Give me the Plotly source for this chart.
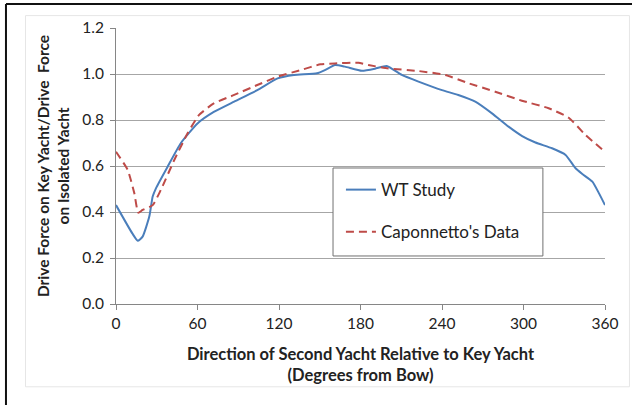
import plotly.graph_objects as go

wt_deg = [0, 12, 16, 19.6, 24.5, 27, 29.4, 38, 47.8, 60, 72, 87, 104, 119, 131, 148, 153.8, 161.2, 168.6, 181,
          190.7, 199.3, 210.4, 222.7, 240, 252, 264.5, 276.8, 289, 299, 308.8, 321, 331, 338.3, 343.3, 350.7, 355.6, 360]
wt_val = [0.430, 0.307, 0.275, 0.293, 0.38, 0.467, 0.503, 0.597, 0.70, 0.785, 0.835, 0.88, 0.93, 0.981, 0.996, 1.003,
          1.017, 1.039, 1.032, 1.014, 1.023, 1.035, 0.996, 0.967, 0.93, 0.909, 0.880, 0.829, 0.771, 0.730, 0.702,
          0.677, 0.648, 0.590, 0.565, 0.532, 0.481, 0.430]

cap_deg = [0, 8.6, 13.5, 16.4, 19.6, 27, 33, 42.9, 52.7, 61.2, 72, 87, 104, 118.8, 135.9, 150.6, 161.2, 178.4,
           185.8, 200.5, 222.7, 242.3, 259.5, 279.2, 298.8, 318.5, 333.3, 345.6, 360]
cap_val = [0.662, 0.583, 0.481, 0.397, 0.409, 0.430, 0.496, 0.626, 0.742, 0.822, 0.872, 0.909, 0.952, 0.988, 1.017,
           1.042, 1.046, 1.049, 1.039, 1.024, 1.013, 0.996, 0.960, 0.923, 0.884, 0.851, 0.810, 0.735, 0.662]

x_ticks = [0, 60, 120, 180, 240, 300, 360]
y_ticks = [0.0, 0.2, 0.4, 0.6, 0.8, 1.0, 1.2]

FONT = "Lato"

fig = go.Figure()
fig.add_trace(go.Scatter(x=wt_deg, y=wt_val, mode="lines", name="WT Study", legendgroup="a",
                         line=dict(color="#4a7ebb", width=2, shape="spline", smoothing=0.5)))
fig.add_trace(go.Scatter(x=cap_deg, y=cap_val, mode="lines", name="Caponnetto's Data", legendgroup="b",
                         line=dict(color="#be4b48", width=2, dash="8px,5px", shape="spline", smoothing=0.5)))

fig.update_layout(
    width=632, height=405,
    margin=dict(l=116, r=27, t=28, b=101),
    paper_bgcolor="white", plot_bgcolor="white",
    font=dict(family=FONT, size=14, color="#222"),
    xaxis=dict(range=[0, 360], tickvals=x_ticks, ticktext=[str(v) for v in x_ticks],
               showgrid=False, zeroline=False, showline=True, linecolor="#868686", linewidth=1,
               ticks="outside", ticklen=5, tickcolor="#868686", tickfont=dict(size=15.5),
               title=dict(text="<b>Direction of Second Yacht Relative to Key Yacht<br>(Degrees from Bow)</b>",
                          font=dict(size=16.5), standoff=17)),
    yaxis=dict(range=[0, 1.2], tickvals=y_ticks, ticktext=[f"{v:.1f}" for v in y_ticks],
               showgrid=True, gridcolor="#a6a6a6", gridwidth=1, zeroline=False,
               showline=True, linecolor="#868686", linewidth=1,
               ticks="outside", ticklen=5, tickcolor="#868686", tickfont=dict(size=15.5),
               ticklabelstandoff=3,
               title=dict(text="<b>Drive Force on Key Yacht/Drive  Force<br>on Isolated Yacht</b>",
                          font=dict(size=15.5), standoff=8)),
    legend=dict(x=0.46, y=0.478, xanchor="left", yanchor="top", bgcolor="rgba(0,0,0,0)",
                borderwidth=0, font=dict(size=17), itemwidth=30,
                tracegroupgap=17, traceorder="grouped"),
    showlegend=True,
)

# legend frame box
fig.add_shape(type="rect", xref="paper", yref="paper", x0=0.4438, x1=0.873, y0=0.174, y1=0.4928,
              line=dict(color="#707070", width=1), fillcolor="white", layer="above")

# outer frame like the screenshot
fig.add_shape(type="line", xref="paper", yref="paper", x0=-0.225, x1=1.06, y0=1.087, y1=1.087,
              line=dict(color="#111", width=2))
fig.add_shape(type="line", xref="paper", yref="paper", x0=-0.225, x1=-0.225, y0=1.087, y1=-0.37,
              line=dict(color="#111", width=2))
fig.add_shape(type="rect", xref="paper", yref="paper", x0=-0.185, x1=1.05, y0=-0.3, y1=1.045,
              line=dict(color="#e6e6e6", width=1), layer="below")

fig.write_html("out.html")
